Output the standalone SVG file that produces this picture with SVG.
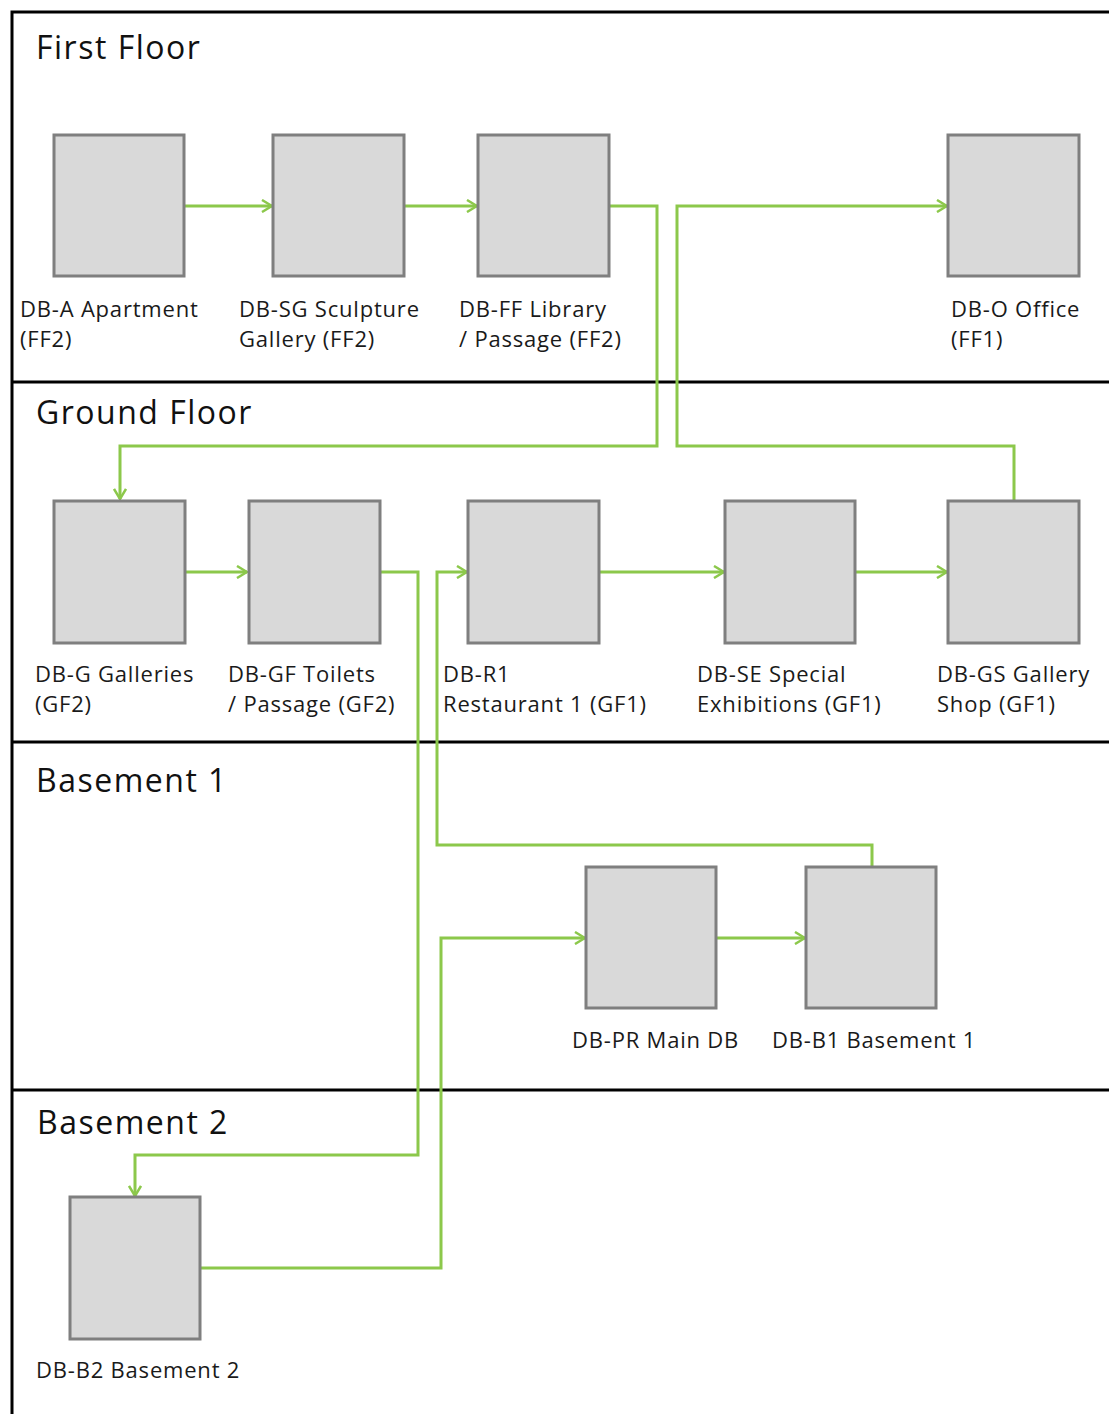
<svg xmlns="http://www.w3.org/2000/svg" width="1109" height="1414" viewBox="0 0 1109 1414">
<style>
.frame{fill:none;stroke:#000;stroke-width:3}
.box{fill:#d9d9d9;stroke:#7f7f7f;stroke-width:3}
.conn{fill:none;stroke:#8cc84b;stroke-width:3;stroke-linejoin:miter}
.head{font-family:"Open Sans","DejaVu Sans",sans-serif;font-size:32px;letter-spacing:1.5px;fill:#111}
.lbl{font-family:"Open Sans","DejaVu Sans",sans-serif;font-size:22px;letter-spacing:0.8px;fill:#1a1a1a}
</style>
<defs>
<marker id="arr" viewBox="0 0 12 14" refX="11" refY="7" markerWidth="12" markerHeight="14" markerUnits="userSpaceOnUse" orient="auto">
<path d="M1,1 L11,7 L1,13" fill="none" stroke="#8cc84b" stroke-width="2.5"/>
</marker>
</defs>
<rect width="1109" height="1414" fill="#fff"/>
<g id="frame">
<path class="frame" d="M12,1414 L12,12 L1109,12"/>
<line class="frame" x1="12" y1="382" x2="1109" y2="382"/>
<line class="frame" x1="12" y1="742" x2="1109" y2="742"/>
<line class="frame" x1="12" y1="1090" x2="1109" y2="1090"/>
<text class="head" x="36" y="59">First Floor</text>
<text class="head" x="36" y="424">Ground Floor</text>
<text class="head" x="36" y="792">Basement 1</text>
<text class="head" x="37" y="1134">Basement 2</text>
</g>
<g id="connectors">
<line class="conn" x1="184" y1="206" x2="272" y2="206" marker-end="url(#arr)"/>
<line class="conn" x1="404" y1="206" x2="477" y2="206" marker-end="url(#arr)"/>
<path class="conn" d="M610,206 H657 V446 H120 V499" marker-end="url(#arr)"/>
<path class="conn" d="M1014,500 V446 H677 V206 H947" marker-end="url(#arr)"/>
<line class="conn" x1="185" y1="572" x2="247" y2="572" marker-end="url(#arr)"/>
<path class="conn" d="M380,572 H418 V1155 H135 V1196" marker-end="url(#arr)"/>
<path class="conn" d="M872,866 V845 H437 V572 H467" marker-end="url(#arr)"/>
<line class="conn" x1="600" y1="572" x2="724" y2="572" marker-end="url(#arr)"/>
<line class="conn" x1="855" y1="572" x2="947" y2="572" marker-end="url(#arr)"/>
<path class="conn" d="M200,1268 H441 V938 H585" marker-end="url(#arr)"/>
<line class="conn" x1="716" y1="938" x2="805" y2="938" marker-end="url(#arr)"/>
</g>
<g id="DB-A"><rect class="box" x="54" y="135" width="130" height="141"/><text class="lbl" x="20" y="317">DB-A Apartment</text><text class="lbl" x="20" y="347">(FF2)</text></g>
<g id="DB-SG"><rect class="box" x="273" y="135" width="131" height="141"/><text class="lbl" x="239" y="317">DB-SG Sculpture</text><text class="lbl" x="239" y="347">Gallery (FF2)</text></g>
<g id="DB-FF"><rect class="box" x="478" y="135" width="131" height="141"/><text class="lbl" x="459" y="317">DB-FF Library</text><text class="lbl" x="459" y="347">/ Passage (FF2)</text></g>
<g id="DB-O"><rect class="box" x="948" y="135" width="131" height="141"/><text class="lbl" x="951" y="317">DB-O Office</text><text class="lbl" x="951" y="347">(FF1)</text></g>
<g id="DB-G"><rect class="box" x="54" y="501" width="131" height="142"/><text class="lbl" x="35" y="682">DB-G Galleries</text><text class="lbl" x="35" y="712">(GF2)</text></g>
<g id="DB-GF"><rect class="box" x="249" y="501" width="131" height="142"/><text class="lbl" x="228" y="682">DB-GF Toilets</text><text class="lbl" x="228" y="712">/ Passage (GF2)</text></g>
<g id="DB-R1"><rect class="box" x="468" y="501" width="131" height="142"/><text class="lbl" x="443" y="682">DB-R1</text><text class="lbl" x="443" y="712">Restaurant 1 (GF1)</text></g>
<g id="DB-SE"><rect class="box" x="725" y="501" width="130" height="142"/><text class="lbl" x="697" y="682">DB-SE Special</text><text class="lbl" x="697" y="712">Exhibitions (GF1)</text></g>
<g id="DB-GS"><rect class="box" x="948" y="501" width="131" height="142"/><text class="lbl" x="937" y="682">DB-GS Gallery</text><text class="lbl" x="937" y="712">Shop (GF1)</text></g>
<g id="DB-PR"><rect class="box" x="586" y="867" width="130" height="141"/><text class="lbl" x="572" y="1048">DB-PR Main DB</text></g>
<g id="DB-B1"><rect class="box" x="806" y="867" width="130" height="141"/><text class="lbl" x="772" y="1048">DB-B1 Basement 1</text></g>
<g id="DB-B2"><rect class="box" x="70" y="1197" width="130" height="142"/><text class="lbl" x="36" y="1378">DB-B2 Basement 2</text></g>
</svg>
